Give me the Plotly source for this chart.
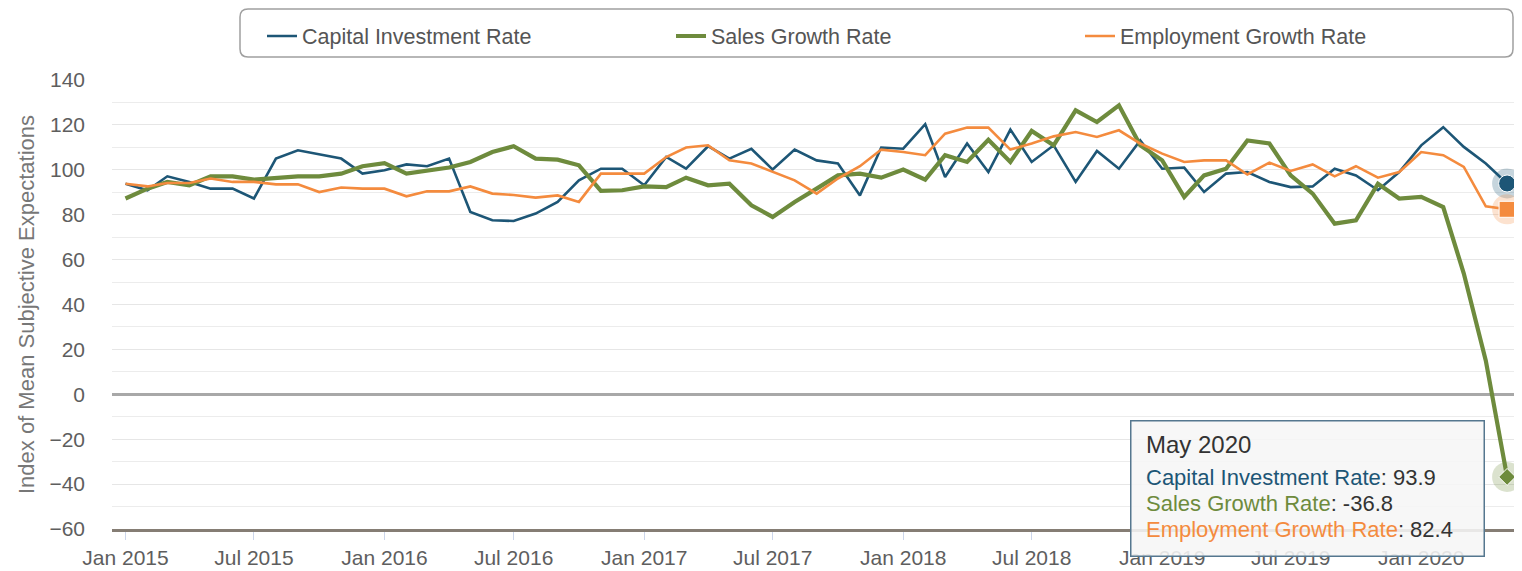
import pandas as pd
import plotly.graph_objects as go

months = pd.date_range("2015-01-01", "2020-05-01", freq="MS")

capital_investment = [
    93.8, 90.9, 97.1, 94.6, 91.6, 91.6, 87.2, 105.0, 108.7, 106.9, 105.0, 98.3,
    99.8, 102.4, 101.6, 105.0, 81.2, 77.5, 77.2, 80.5, 85.7, 95.3, 100.5, 100.5,
    93.1, 105.7, 100.5, 110.5, 105.0, 109.4, 100.1, 109.0, 104.2, 102.8, 88.6, 109.9,
    109.4, 120.3, 96.8, 111.7, 99.0, 117.9, 103.5, 110.9, 94.6, 108.4, 100.5, 113.1,
    100.5, 101.0, 90.1, 98.3, 99.0, 94.6, 92.3, 92.6, 100.5, 97.5, 90.9, 99.0,
    110.9, 119.0, 110.2, 102.8, 93.9,
]
sales_growth = [
    87.2, 91.6, 94.6, 93.1, 97.1, 97.1, 95.6, 96.5, 97.1, 97.1, 98.3, 101.6,
    103.0, 98.3, 99.8, 101.0, 103.5, 107.9, 110.5, 105.0, 104.5, 102.0, 90.6, 90.9,
    92.6, 92.3, 96.5, 93.1, 93.8, 84.2, 79.0, 85.7, 91.6, 97.5, 98.3, 96.5,
    100.1, 95.6, 106.5, 103.5, 113.4, 103.5, 117.3, 110.9, 126.5, 121.3, 128.7, 110.9,
    104.2, 87.9, 97.5, 100.5, 113.1, 111.7, 97.5, 89.4, 76.0, 77.5, 93.8, 87.2,
    87.9, 83.4, 53.8, 15.0, -36.8,
]
employment_growth = [
    93.8, 92.6, 94.1, 94.1, 96.1, 94.6, 94.6, 93.5, 93.5, 90.1, 92.1, 91.6,
    91.6, 88.2, 90.4, 90.4, 92.6, 89.4, 88.8, 87.6, 88.6, 85.7, 98.3, 98.3,
    98.3, 105.7, 109.9, 110.9, 104.2, 102.8, 99.0, 95.3, 89.4, 96.1, 101.6, 109.0,
    107.9, 106.5, 116.1, 118.8, 118.8, 109.0, 111.7, 114.9, 116.8, 114.6, 117.6, 111.7,
    107.2, 103.5, 104.2, 104.2, 97.9, 103.2, 99.5, 102.4, 97.1, 101.6, 96.5, 99.0,
    107.9, 106.5, 101.3, 83.7, 82.4,
]

series_names = ["Capital Investment Rate", "Sales Growth Rate", "Employment Growth Rate"]
series_values = [capital_investment, sales_growth, employment_growth]
colors = ["#1d5676", "#6e8b3d", "#f48b3e"]
widths = [2.6, 4.2, 2.6]
symbols = ["circle", "diamond", "square"]
sizes = [17, 13, 16]
tooltip_title = "May 2020"

FONT = "Liberation Sans, Arial, sans-serif"

fig = go.Figure()
for name, vals, col, w in zip(series_names, series_values, colors, widths):
    fig.add_trace(go.Scatter(x=months, y=vals, mode="lines", name=name,
                             line=dict(color=col, width=w)))

# hover-highlight markers on the last point
for name, vals, col, sym, sz in zip(series_names, series_values, colors, symbols, sizes):
    fig.add_trace(go.Scatter(x=[months[-1]], y=[vals[-1]], mode="markers", showlegend=False,
                             marker=dict(color=col, size=30, opacity=0.25, symbol="circle"),
                             cliponaxis=False, hoverinfo="skip"))
    fig.add_trace(go.Scatter(x=[months[-1]], y=[vals[-1]], mode="markers", showlegend=False,
                             marker=dict(color=col, size=sz, symbol=sym,
                                         line=dict(color="white", width=1)),
                             cliponaxis=False, hoverinfo="skip"))

# page has an 8px body margin: figure origin sits at (8, 8) of the page
OFF = 8
W, H = 1522 - OFF, 571 - OFF
L, R, T = 112 - OFF, 0, 80 - OFF
B = H - (529 - OFF)
pw, ph = W - L - R, H - T - B

def px_x(x):  # page x -> paper
    return (x - OFF - L) / pw

def px_y(y):  # page y -> paper
    return (H - B - (y - OFF)) / ph

# rounded legend frame
x0, x1, y0, y1 = 240, 1513, 9, 57
r = 8
rx, ry = r / pw, r / ph
X0, X1, Y0, Y1 = px_x(x0), px_x(x1), px_y(y0), px_y(y1)
path = (f"M {X0+rx},{Y0} L {X1-rx},{Y0} Q {X1},{Y0} {X1},{Y0-ry} "
        f"L {X1},{Y1+ry} Q {X1},{Y1} {X1-rx},{Y1} L {X0+rx},{Y1} "
        f"Q {X0},{Y1} {X0},{Y1+ry} L {X0},{Y0-ry} Q {X0},{Y0} {X0+rx},{Y0} Z")
fig.add_shape(type="path", path=path, xref="paper", yref="paper",
              line=dict(color="#a0a0a0", width=1.5), fillcolor="rgba(255,255,255,0)", layer="below")

# tooltip box
fig.add_annotation(text=" ", xref="paper", yref="paper", x=px_x(1130), y=px_y(420),
                   xanchor="left", yanchor="top", showarrow=False,
                   bgcolor="rgba(246,246,246,0.88)", bordercolor="#55778f", borderwidth=1.5,
                   borderpad=0, width=352, height=134)
fig.add_annotation(text=tooltip_title, xref="paper", yref="paper", x=px_x(1144), y=px_y(444),
                   xanchor="left", yanchor="middle", showarrow=False,
                   font=dict(family=FONT, size=24, color="#333333"))
line_y = [477, 503, 529]
for name, vals, col, yy in zip(series_names, series_values, colors, line_y):
    fig.add_annotation(
        text=f"<span style='color:{col}'>{name}</span>: {vals[-1]}",
        xref="paper", yref="paper", x=px_x(1144), y=px_y(yy),
        xanchor="left", yanchor="middle", showarrow=False,
        font=dict(family=FONT, size=22, color="#333333"))

fig.update_layout(
    width=W, height=H,
    margin=dict(l=L, r=R, t=T, b=B),
    paper_bgcolor="white", plot_bgcolor="white",
    font=dict(family=FONT, color="#606060"),
    showlegend=True,
    legend=dict(orientation="h", x=px_x(262), xanchor="left", y=px_y(36), yanchor="middle",
                font=dict(family=FONT, size=21.5, color="#555555"),
                entrywidth=364, entrywidthmode="pixels", bgcolor="rgba(0,0,0,0)"),
    xaxis=dict(type="date", range=["2014-12-13", "2020-05-22"],
               tick0="2015-01-01", dtick="M6", tickformat="%b %Y",
               showgrid=False, zeroline=False,
               ticks="outside", ticklen=8, tickcolor="#ccd6eb", tickwidth=1,
               tickfont=dict(family=FONT, size=21, color="#5e5e5e"),
               showline=True, linecolor="#857d74", linewidth=3, fixedrange=True),
    yaxis=dict(range=[-60, 140], tick0=-60, dtick=20, showgrid=True,
               gridcolor="#e6e6e6", gridwidth=1,
               minor=dict(dtick=10, showgrid=True, gridcolor="#ececec", gridwidth=1),
               zeroline=True, zerolinecolor="#a8a8a8", zerolinewidth=2.5,
               tickfont=dict(family=FONT, size=21, color="#5e5e5e"),
               ticklabelstandoff=26,
               title=dict(text="Index of Mean Subjective Expectations",
                          font=dict(family=FONT, size=22, color="#777777"), standoff=8),
               showline=False, automargin=False),
)

fig.write_html("out.html")
